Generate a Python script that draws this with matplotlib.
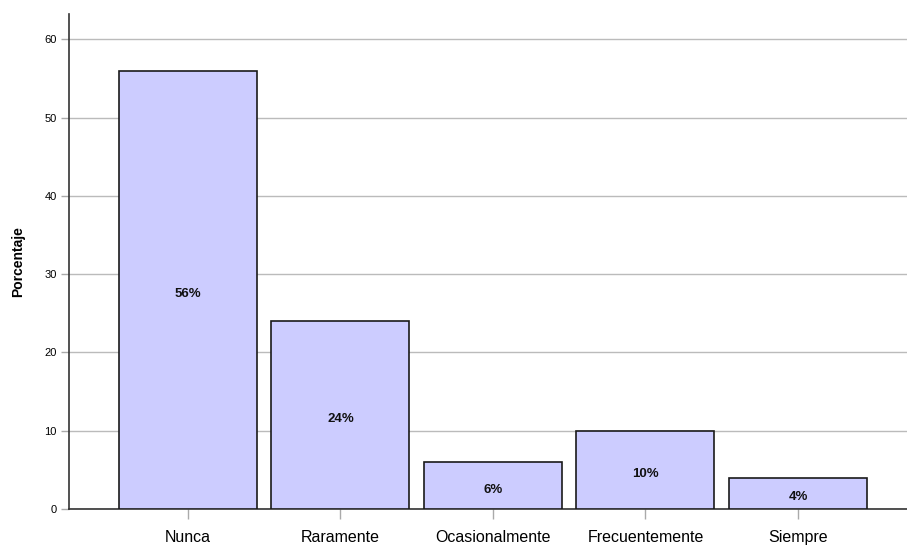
import matplotlib
matplotlib.use("Agg")
import matplotlib.pyplot as plt
import numpy as np

categorias = ["Nunca", "Raramente", "Ocasionalmente", "Frecuentemente", "Siempre"]
porcentajes = [56, 24, 6, 10, 4]
etiquetas = ["56%", "24%", "6%", "10%", "4%"]
yticks = [0, 10, 20, 30, 40, 50, 60]

plt.rcParams['font.family'] = ['Liberation Sans', 'DejaVu Sans']

fig = plt.figure(figsize=(9.07, 5.46), dpi=100)
ax = fig.add_axes([0.0761, 0.0678, 0.9239, 0.906])

x = np.arange(len(categorias))
bars = ax.bar(x, porcentajes, width=0.905, color='#ccccff', edgecolor='#1a1a1a',
              linewidth=1.2, zorder=3)

# etiquetas dentro de cada barra, un poco bajo el centro
for xi, v, lab in zip(x, porcentajes, etiquetas):
    ax.annotate(lab, (xi, v / 2), xytext=(0, -3), textcoords='offset points',
                ha='center', va='center', fontsize=9.5, fontweight='bold',
                family=['Liberation Sans Narrow', 'Liberation Sans'], color='#111111', zorder=4)

ax.set_xlim(-0.78, 4.715)
ax.set_ylim(0, 63.2)
ax.set_yticks(yticks)
ax.set_xticks(x)
ax.set_xticklabels(categorias, fontsize=11.5)
ax.tick_params(axis='y', labelsize=8, length=6, color='#aaaaaa', width=1, pad=3)
ax.tick_params(axis='x', length=7, color='#aaaaaa', width=1, pad=8)

ax.yaxis.grid(True, color='#bbbbbb', linewidth=1, zorder=0)
ax.set_axisbelow(True)

for s in ['top', 'right']:
    ax.spines[s].set_visible(False)
ax.spines['left'].set_color('#333333')
ax.spines['bottom'].set_color('#333333')
ax.spines['left'].set_linewidth(1.2)
ax.spines['bottom'].set_linewidth(1.2)

ax.set_ylabel("Porcentaje", fontsize=10, fontweight='bold', labelpad=14)

fig.savefig("out.png", dpi=100)
